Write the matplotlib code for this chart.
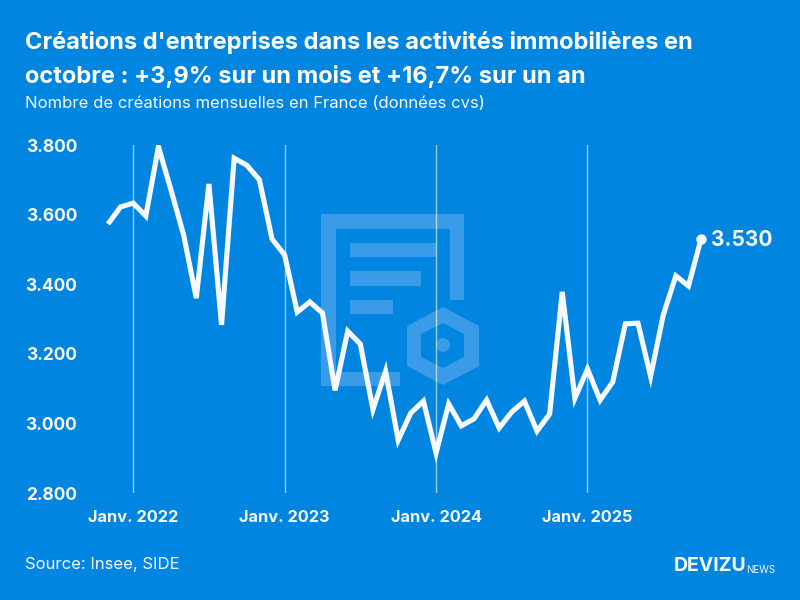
import matplotlib
matplotlib.use('Agg')
import matplotlib.pyplot as plt
from matplotlib import patches as mp
from matplotlib.transforms import Affine2D

plt.rcParams['font.family'] = ['Inter', 'DejaVu Sans']

BG = '#0085E0'
INK = '#F8F8FF'
MARK = '#3A9CE9'

# One value per month, Nov. 2021 -> Oct. 2025
creations = [3573, 3622, 3633, 3596, 3795, 3670, 3541, 3360, 3688, 3283, 3762, 3742,
             3700, 3530, 3484, 3320, 3349, 3317, 3095, 3265, 3228, 3040, 3150, 2952,
             3030, 3064, 2915, 3056, 2993, 3013, 3067, 2987, 3033, 3064, 2978, 3027,
             3378, 3072, 3156, 3067, 3119, 3286, 3288, 3135, 3311, 3424, 3395, 3530]
months = list(range(len(creations)))
jan_positions = [2, 14, 26, 38]
jan_labels = ['Janv. 2022', 'Janv. 2023', 'Janv. 2024', 'Janv. 2025']
y_ticks = [2800, 3000, 3200, 3400, 3600, 3800]
y_labels = ['2.800', '3.000', '3.200', '3.400', '3.600', '3.800']
last_label = '3.530'

W, H = 800, 600
fig = plt.figure(figsize=(8, 6), dpi=100, facecolor=BG)

# Watermark is drawn in pixel coordinates, y going down from the top
px = Affine2D().scale(1, -1).translate(0, H)
bars = [(321, 214, 143, 15), (321, 214, 15, 172), (321, 372, 79, 14), (450, 214, 14, 86),
        (350, 243, 86, 14), (350, 271, 71, 15), (350, 300, 43, 14)]
for x, y, w, h in bars:
    fig.add_artist(mp.Rectangle((x, y), w, h, fc=MARK, ec='none', transform=px, zorder=-2))
hex_outer = [(443, 307), (479, 326), (479, 366), (443, 385), (407, 366), (407, 326)]
hex_inner = [(443, 323), (464, 334), (464, 357), (443, 368), (421, 357), (421, 334)]
fig.add_artist(mp.Polygon(hex_outer, fc=MARK, ec='none', transform=px, zorder=-2))
fig.add_artist(mp.Polygon(hex_inner, fc=BG, ec='none', transform=px, zorder=-1.5))
fig.add_artist(mp.Circle((443, 345), 7, fc=MARK, ec='none', transform=px, zorder=-1))

ax = fig.add_axes([100 / W, 1 - 493 / H, 620 / W, 348 / H])
ax.patch.set_alpha(0)
ax.set_xlim(-0.63, 48.5)
ax.set_ylim(2800, 3800)
for s in ax.spines.values():
    s.set_visible(False)

for m in jan_positions:
    ax.axvline(m, color='white', alpha=0.6, lw=1, zorder=1)

ax.plot(months, creations, color=INK, lw=3.7, solid_joinstyle='miter',
        solid_capstyle='butt', zorder=3)
ax.plot(months[-1], creations[-1], 'o', color=INK, ms=7.5, mec='none', zorder=4)
ax.annotate(last_label, (months[-1], creations[-1]), xytext=(7, -1),
            textcoords='offset points', va='center', ha='left',
            color=INK, fontsize=15, fontweight='bold')

ax.set_xticks(jan_positions, jan_labels)
ax.set_yticks(y_ticks, y_labels)
ax.tick_params(length=0)
ax.tick_params(axis='x', pad=12, labelsize=11.8, labelcolor=INK)
ax.tick_params(axis='y', pad=16.5, labelsize=12.5, labelcolor=INK)
for lab in ax.get_xticklabels() + ax.get_yticklabels():
    lab.set_fontweight('bold')


def put(x, y, s, **kw):
    # Text placed by its pixel position on the 800x600 canvas
    fig.text(x / W, 1 - y / H, s, va='center', color=kw.pop('color', INK), **kw)


put(25, 43, "Créations d'entreprises dans les activités immobilières en",
    fontsize=17, fontweight='bold', color='white')
put(25, 76, "octobre : +3,9% sur un mois et +16,7% sur un an",
    fontsize=17, fontweight='bold', color='white')
put(25, 103, "Nombre de créations mensuelles en France (données cvs)", fontsize=12)
put(25, 564, "Source: Insee, SIDE", fontsize=12)
put(674, 566, "DEVIZU", fontsize=14, fontweight='bold')
put(746, 570, "NEWS", fontsize=7)

fig.savefig('out.png', dpi=100, facecolor=BG)
